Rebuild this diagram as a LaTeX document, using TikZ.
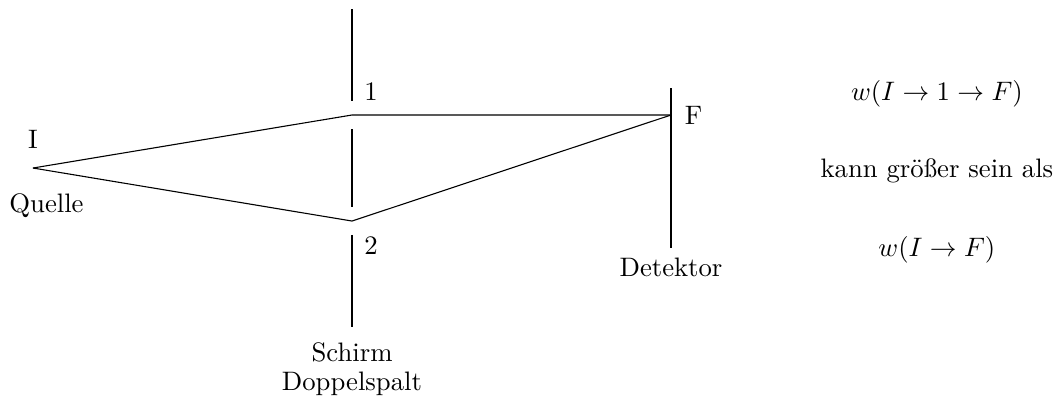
\documentclass[tikz,border=0pt,11pt]{standalone}
\usepackage{amsmath,amssymb}
\usepackage{tikz}
\usetikzlibrary{positioning}
\tikzset{
  wall/.style={line width=1.2pt},
  ray/.style={line width=0.45pt},
  lbl/.style={inner sep=1pt}
}

\begin{document}
\begin{tikzpicture}
    \useasboundingbox (0,0) rectangle (15.245,5.735);
    % Points of the paths
    \coordinate (I) at (0.475, 3.314);
    \coordinate (s1) at (5.072, 4.078);
    \coordinate (s2) at (5.072, 2.550);
    \coordinate (F) at (9.669, 4.078);
    
    % Double slit screen
    \draw[wall] (5.072, 5.605) -- (5.072, 4.280);
    \draw[wall] (5.072, 3.876) -- (5.072, 2.752);
    \draw[wall] (5.072, 2.349) -- (5.072, 1.023);
    \node[lbl] (one) at (5.346, 4.409) {1};
    \node[lbl] (two) at (5.346, 2.190) {2};
    \node[lbl] (schirm) at (5.072, 0.663) {Schirm};
    \node[lbl] (spalt) at (5.072, 0.202) {Doppelspalt};
    
    % Source
    \node[lbl] (ilbl) at (0.475, 3.732) {I};
    \node[lbl] (quelle) at (0.670, 2.767) {Quelle};
    
    % Detector
    \draw[ray] (9.669, 4.466) -- (9.669, 2.161);
    \node[lbl] (flbl) at (9.993, 4.078) {F};
    \node[lbl] (detektor) at (9.669, 1.888) {Detektor};
    
    % Paths through the slits
    \draw[ray] (I) -- (s1) -- (F);
    \draw[ray] (I) -- (s2) -- (F);
    
    % Explanation
    \node (w1) at (13.50, 4.388) {$w(I \to 1 \to F)$};
    \node (kann) at (13.50, 3.278) {kann größer sein als};
    \node (w2) at (13.50, 2.140) {$w(I \to F)$};
\end{tikzpicture}
\end{document}
